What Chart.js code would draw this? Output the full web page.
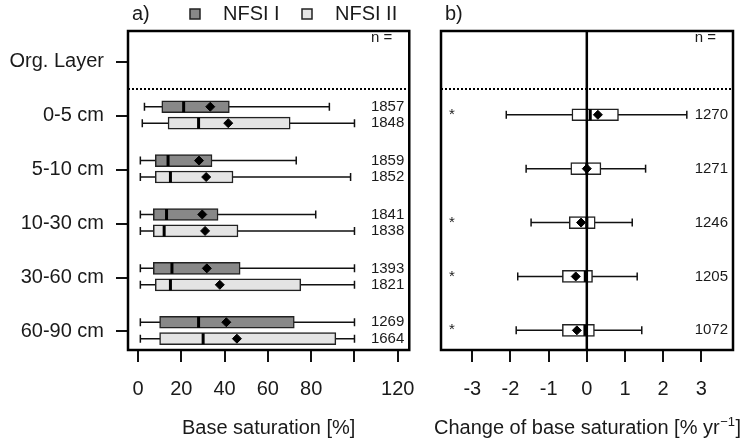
<!DOCTYPE html>
<html>
<head>
<meta charset="utf-8">
<script src="https://cdn.jsdelivr.net/npm/chart.js@4/dist/chart.umd.min.js"></script>
<style>
  body { margin: 0; background: #fff; }
  #wrap { position: relative; width: 743px; height: 443px; }
  canvas { position: absolute; top: 0; }
</style>
</head>
<body>
<div id="wrap">
  <canvas id="chartA" width="430" height="443" style="left:0"></canvas>
  <canvas id="chartB" width="313" height="443" style="left:430px"></canvas>
</div>
<script>
// soil layers, top to bottom (Org. Layer has no data)
const categories = ['Org. Layer', '0-5 cm', '5-10 cm', '10-30 cm', '30-60 cm', '60-90 cm'];

// a) base saturation [%], one value per mineral layer (0-5 ... 60-90 cm)
const nfsi1Min    = [3.0, 1.1, 1.1, 1.1, 1.1];
const nfsi1Q1     = [11.0, 8.0, 7.1, 7.1, 10.0];
const nfsi1Median = [21.1, 13.9, 13.2, 15.7, 28.0];
const nfsi1Mean   = [33.4, 28.2, 29.7, 31.8, 40.8];
const nfsi1Q3     = [42.2, 34.2, 37.0, 47.2, 72.2];
const nfsi1Max    = [88.4, 73.1, 82.1, 100, 100];
const nfsi1N      = [1857, 1859, 1841, 1393, 1269];

const nfsi2Min    = [2.0, 1.1, 1.1, 1.1, 1.1];
const nfsi2Q1     = [13.9, 8.0, 7.1, 8.0, 10.0];
const nfsi2Median = [28.0, 15.0, 12.1, 15.0, 30.1];
const nfsi2Mean   = [41.7, 31.5, 31.0, 37.8, 45.7];
const nfsi2Q3     = [70.3, 43.9, 46.2, 75.2, 91.4];
const nfsi2Max    = [100, 98.2, 100, 100, 100];
const nfsi2N      = [1848, 1852, 1838, 1821, 1664];

// b) change of base saturation [% / yr]
const chgMin    = [-2.11, -1.59, -1.46, -1.81, -1.85];
const chgQ1     = [-0.39, -0.42, -0.46, -0.64, -0.64];
const chgMedian = [0.09, 0.0, 0.0, -0.04, -0.05];
const chgMean   = [0.29, 0.0, -0.15, -0.29, -0.26];
const chgQ3     = [0.83, 0.37, 0.22, 0.15, 0.20];
const chgMax    = [2.62, 1.54, 1.19, 1.32, 1.44];
const chgN      = [1270, 1271, 1246, 1205, 1072];
const chgSignif = [true, false, true, true, true];

const xTicksA = [0, 20, 40, 60, 80, 100, 120];
const xTickLabelsA = ['0', '20', '40', '60', '80', '', '120'];
const xTicksB = [-3, -2, -1, 0, 1, 2, 3];
const xTickLabelsB = ['-3', '-2', '-1', '0', '1', '2', '3'];

const FONT = "'Liberation Sans', Arial, Helvetica, sans-serif";
const TXT = '#1a1a1a';
const DARK = '#888888';
const LIGHT = '#e4e4e4';
const OFF1 = -0.17, OFF2 = 0.135, OFFB = -0.02;

function boxSeries(fill, mins, q1s, meds, means, q3s, maxs, off) {
  const ys = mins.map((_, i) => i + 1 + off);
  const whiskers = [];
  mins.forEach((m, i) => whiskers.push({x: m, y: ys[i]}, {x: maxs[i], y: ys[i]}, {x: null, y: ys[i]}));
  return [
    { type: 'scatter', data: whiskers, showLine: true, spanGaps: false,
      borderColor: '#111', borderWidth: 1.5,
      pointStyle: 'line', pointRotation: 90, pointRadius: 4, pointBorderWidth: 1.5,
      pointBorderColor: '#111', order: 3 },
    { type: 'bar', indexAxis: 'y', grouped: false, barThickness: 12, borderSkipped: false,
      data: q1s.map((q, i) => ({x: [q, q3s[i]], y: ys[i]})),
      backgroundColor: fill, borderColor: '#222', borderWidth: 1.5, order: 2 },
    { type: 'scatter', data: meds.map((m, i) => ({x: m, y: ys[i]})),
      pointStyle: 'line', pointRotation: 90, pointRadius: 5.5, pointBorderWidth: 3,
      pointBorderColor: '#000', order: 1 },
    { type: 'scatter', data: means.map((m, i) => ({x: m, y: ys[i]})),
      pointStyle: 'rectRot', pointRadius: 4.5, pointBackgroundColor: '#000',
      pointBorderColor: '#000', pointBorderWidth: 1, order: 0 }
  ];
}

function xScale(min, max, ticks, labels) {
  return {
    type: 'linear', min: min, max: max, offset: false,
    afterBuildTicks: s => { s.ticks = ticks.map(v => ({value: v})); },
    afterFit: s => { s.height = 93; },
    ticks: { callback: (v, i) => labels[i], color: TXT, font: {family: FONT, size: 20},
             padding: 15, maxRotation: 0, autoSkip: false },
    grid: { drawOnChartArea: false, drawTicks: true, tickLength: 12, color: '#111', lineWidth: 2, offset: false },
    border: { display: false }
  };
}

function yScale(show) {
  const s = {
    type: 'linear', reverse: true, min: -0.575, max: 5.345, offset: false, display: show,
    afterBuildTicks: sc => { sc.ticks = categories.map((_, i) => ({value: i})); },
    ticks: { callback: (v, i) => categories[i], color: TXT, font: {family: FONT, size: 20},
             padding: 12, autoSkip: false },
    grid: { drawOnChartArea: false, drawTicks: true, tickLength: 12, color: '#111', lineWidth: 2, offset: false },
    border: { display: false }
  };
  s.afterFit = sc => { sc.width = show ? 128 : 0; };
  return s;
}

// frame, dotted separator, n counts, asterisks, panel labels
function makeDecor(cfg) {
  return {
    id: 'decor',
    afterDatasetsDraw(chart) {
      const {ctx, chartArea: a, scales: {x, y}} = chart;
      ctx.save();
      ctx.strokeStyle = '#000';
      const yd = y.getPixelForValue(0.5);
      ctx.setLineDash([2, 2]);
      ctx.lineWidth = 2;
      ctx.beginPath(); ctx.moveTo(a.left, yd); ctx.lineTo(a.right, yd); ctx.stroke();
      ctx.setLineDash([]);
      if (cfg.zeroLine) {
        const x0 = x.getPixelForValue(0);
        ctx.lineWidth = 2.5;
        ctx.beginPath(); ctx.moveTo(x0, a.top); ctx.lineTo(x0, a.bottom); ctx.stroke();
      }
      ctx.lineWidth = 2.5;
      ctx.strokeRect(a.left, a.top, a.right - a.left, a.bottom - a.top);

      ctx.fillStyle = TXT;
      ctx.font = '15px ' + FONT;
      ctx.textAlign = 'right';
      ctx.textBaseline = 'middle';
      ctx.fillText('n =', a.right - 17, a.top + 7);
      cfg.counts.forEach(c => c.n.forEach((n, i) => {
        ctx.fillText(String(n), a.right - 5, y.getPixelForValue(i + 1 + c.off));
      }));
      if (cfg.signif) {
        ctx.textAlign = 'center';
        cfg.signif.forEach((s, i) => {
          if (s) ctx.fillText('*', a.left + 11, y.getPixelForValue(i + 1 + OFFB));
        });
      }
      ctx.restore();
    },
    afterDraw(chart) {
      const {ctx, chartArea: a} = chart;
      ctx.save();
      ctx.fillStyle = TXT;
      ctx.font = '20px ' + FONT;
      ctx.textBaseline = 'middle';
      ctx.textAlign = 'left';
      ctx.fillText(cfg.panel, a.left + 4, 14);
      if (cfg.legend) {
        cfg.legend.forEach(l => {
          ctx.fillStyle = l.fill;
          ctx.fillRect(l.x, 9, 10, 10);
          ctx.strokeStyle = '#222';
          ctx.lineWidth = 1.5;
          ctx.strokeRect(l.x, 9, 10, 10);
          ctx.fillStyle = TXT;
          ctx.fillText(l.text, l.x + 33, 14.5);
        });
      }
      if (cfg.titleParts) {
        const [main, sup, tail] = cfg.titleParts;
        const supFont = '13px ' + FONT;
        const mainFont = '20px ' + FONT;
        ctx.font = mainFont; const w1 = ctx.measureText(main).width; const w3 = ctx.measureText(tail).width;
        ctx.font = supFont; const w2 = ctx.measureText(sup).width;
        let x0 = (a.left + a.right) / 2 - (w1 + w2 + w3) / 2;
        const yT = 428;
        ctx.font = mainFont; ctx.fillText(main, x0, yT); x0 += w1;
        ctx.font = supFont; ctx.fillText(sup, x0 + 0.5, yT - 6); x0 += w2 + 1;
        ctx.font = mainFont; ctx.fillText(tail, x0, yT);
      }
      ctx.restore();
    }
  };
}

const dsA = [
  ...boxSeries(DARK, nfsi1Min, nfsi1Q1, nfsi1Median, nfsi1Mean, nfsi1Q3, nfsi1Max, OFF1),
  ...boxSeries(LIGHT, nfsi2Min, nfsi2Q1, nfsi2Median, nfsi2Mean, nfsi2Q3, nfsi2Max, OFF2)
];
dsA[1].label = 'NFSI I';
dsA[5].label = 'NFSI II';

const xA = xScale(-4.6, 125.3, xTicksA, xTickLabelsA);
xA.title = { display: true, text: 'Base saturation [%]', color: TXT,
             font: {family: FONT, size: 20}, padding: {top: 0, bottom: 3} };

new Chart(document.getElementById('chartA'), {
  type: 'scatter',
  data: { datasets: dsA },
  options: {
    responsive: false, animation: false, events: [],
    layout: { padding: {left: 0, right: 13, top: 31, bottom: 0} },
    scales: { x: xA, y: yScale(true) },
    plugins: { legend: {display: false}, tooltip: {enabled: false} }
  },
  plugins: [makeDecor({
    panel: 'a)',
    counts: [{n: nfsi1N, off: OFF1}, {n: nfsi2N, off: OFF2}],
    legend: [{x: 190, fill: DARK, text: 'NFSI I'}, {x: 302, fill: LIGHT, text: 'NFSI II'}]
  })]
});

new Chart(document.getElementById('chartB'), {
  type: 'scatter',
  data: { datasets: boxSeries('#ffffff', chgMin, chgQ1, chgMedian, chgMean, chgQ3, chgMax, OFFB) },
  options: {
    responsive: false, animation: false, events: [],
    layout: { padding: {left: 11, right: 10, top: 31, bottom: 0} },
    scales: { x: xScale(-3.82, 3.83, xTicksB, xTickLabelsB), y: yScale(false) },
    plugins: { legend: {display: false}, tooltip: {enabled: false} }
  },
  plugins: [makeDecor({
    panel: 'b)',
    zeroLine: true,
    counts: [{n: chgN, off: OFFB}],
    signif: chgSignif,
    titleParts: ['Change of base saturation [% yr', '\u22121', ']']
  })]
});
</script>
</body>
</html>
